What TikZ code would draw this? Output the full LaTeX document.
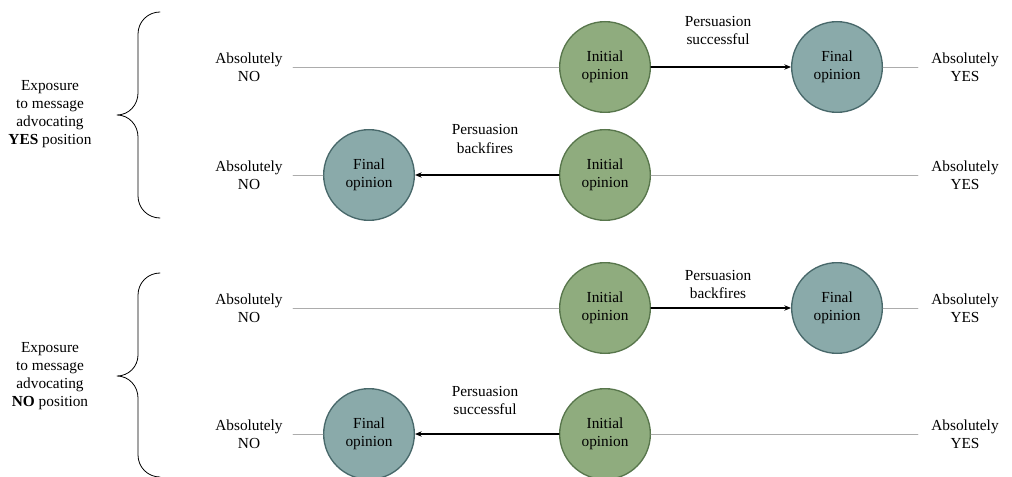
\documentclass[tikz,border=0pt]{standalone}
\usepackage{fontspec}
\setmainfont{Liberation Serif}
\usetikzlibrary{arrows.meta}
\definecolor{initfill}{RGB}{143,172,126}
\definecolor{initdraw}{RGB}{88,118,76}
\definecolor{finfill}{RGB}{138,170,170}
\definecolor{findraw}{RGB}{72,104,106}
\tikzset{
  opinion/.style={circle,minimum size=68pt,inner sep=0pt,line width=1pt,align=center,
    font=\fontsize{11.5}{13.5}\selectfont},
  initial/.style={opinion,fill=initfill,draw=initdraw},
  final/.style={opinion,fill=finfill,draw=findraw},
  lbl/.style={align=center,font=\fontsize{11.5}{13.5}\selectfont},
  scaleline/.style={gray!65,line width=0.4pt},
  change/.style={-{Stealth[length=5pt,width=4pt]},line width=1.1pt},
  bracket/.style={line width=0.6pt}
}
\begin{document}
\begin{tikzpicture}[x=0.75pt,y=-0.75pt,line join=round,line cap=round]
\useasboundingbox (0,0) rectangle (1012,477);
% end labels
\foreach \r/\y in {a/67, b/175, c/308, d/434}{
  \node[lbl] (no\r) at (249,\y) {Absolutely\\NO};
  \node[lbl] (yes\r) at (965,\y) {Absolutely\\YES};
  \coordinate (l\r) at (293,\y);
  \coordinate (r\r) at (918,\y);
  \node[initial] (ini\r) at (605,\y) {Initial\\opinion};
}
% row 1
\node[final] (fina) at (837,67) {Final\\opinion};
\draw[scaleline] (la)--(inia);
\draw[change] (inia)--(fina);
\draw[scaleline] (fina)--(ra);
\node[lbl] (pa) at (718,31) {Persuasion\\successful};
% row 2
\node[final] (finb) at (369,175) {Final\\opinion};
\draw[scaleline] (lb)--(finb);
\draw[change] (inib)--(finb);
\draw[scaleline] (inib)--(rb);
\node[lbl] (pb) at (485,139) {Persuasion\\backfires};
% row 3
\node[final] (finc) at (837,308) {Final\\opinion};
\draw[scaleline] (lc)--(inic);
\draw[change] (inic)--(finc);
\draw[scaleline] (finc)--(rc);
\node[lbl] (pc) at (718,284) {Persuasion\\backfires};
% row 4
\node[final] (find) at (369,434) {Final\\opinion};
\draw[scaleline] (ld)--(find);
\draw[change] (inid)--(find);
\draw[scaleline] (inid)--(rd);
\node[lbl] (pd) at (485,400) {Persuasion\\successful};
% braces
\draw[bracket] (160,12) to[out=180,in=90] (138,34) -- (138,93)
  to[out=-90,in=0] (117,115) to[out=0,in=90] (138,137) -- (138,196)
  to[out=-90,in=180] (160,218);
\draw[bracket] (160,273) to[out=180,in=90] (138,295) -- (138,355)
  to[out=-90,in=0] (117,376) to[out=0,in=90] (138,398) -- (138,455)
  to[out=-90,in=180] (160,477);
\node[lbl] (expyes) at (50,114) {Exposure\\to message\\advocating\\\textbf{YES} position};
\node[lbl] (expno) at (50,376) {Exposure\\to message\\advocating\\\textbf{NO} position};
\end{tikzpicture}
\end{document}
